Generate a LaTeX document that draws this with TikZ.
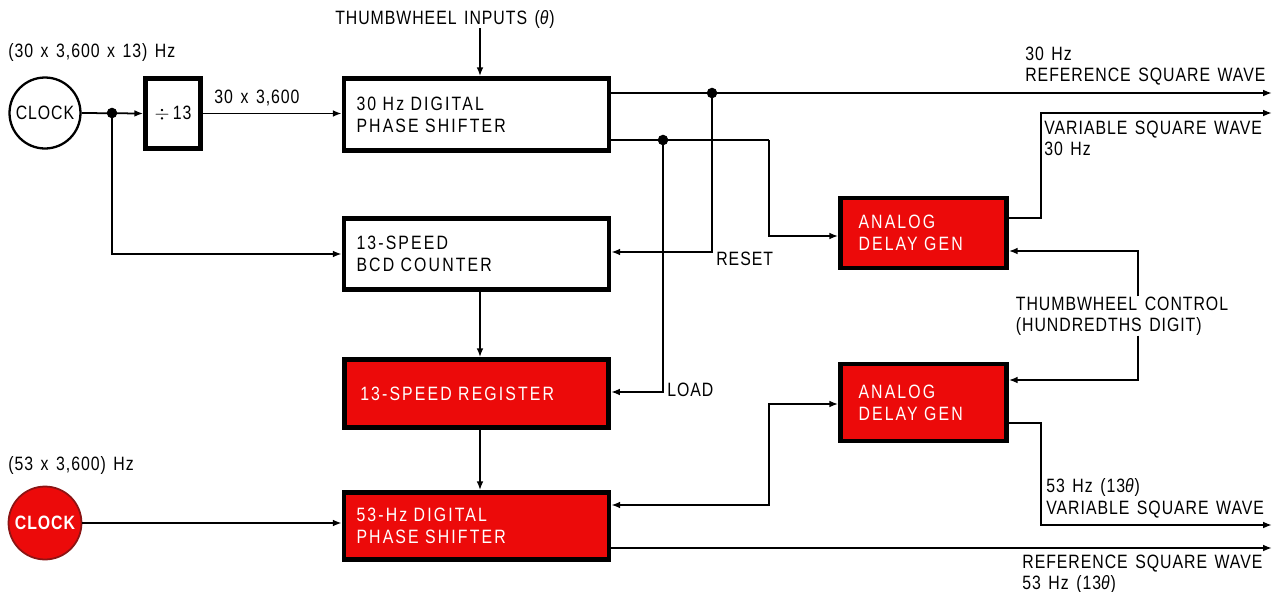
\documentclass[tikz,border=0pt]{standalone}
\usepackage{fontspec}
\setmainfont{Liberation Sans}[LetterSpace=5,FakeStretch=0.82,WordSpace=1.4]
\newfontfamily\boxfnt{Liberation Sans}[LetterSpace=11,FakeStretch=0.82,WordSpace=1.4]
\usetikzlibrary{arrows.meta,calc}
\definecolor{boxred}{RGB}{236,10,10}
\definecolor{darkred}{RGB}{140,20,20}
\begin{document}
\begin{tikzpicture}[x=0.02cm,y=-0.02cm,
  font=\fontsize{11}{12}\selectfont,
  conn/.style={line width=1pt},
  arr/.style={conn,-{Latex[length=5pt,width=3.8pt]}},
  dblarr/.style={conn,{Latex[length=5pt,width=3.8pt]}-{Latex[length=5pt,width=3.8pt]}},
  blk/.style={draw,line width=2.6pt,align=left,inner xsep=0.25cm,text width=#1,font=\boxfnt\fontsize{11}{12.5}\selectfont},
  redblk/.style={blk=#1,fill=boxred,text=white},
  lbl/.style={inner sep=0pt,align=left},
  dot/.style={circle,fill,inner sep=0pt,minimum size=6pt}]
\useasboundingbox (0,0) rectangle (1276,592);

% clocks
\node[circle,draw,line width=1.3pt,minimum size=1.42cm,inner sep=0pt] (clk1) at (45,113) {CLOCK};
\node[circle,fill=boxred,draw=darkred,line width=1pt,minimum size=1.46cm,inner sep=0pt,text=white,font=\fontsize{11}{12}\selectfont\bfseries] (clk2) at (45,523) {CLOCK};

% blocks
\node[draw,line width=2.6pt,minimum width=1.1cm,minimum height=1.4cm,inner sep=0pt] (div) at (173,113.5) {$\div$\,13};
\node[blk=4.8cm,minimum height=1.44cm] (ps1) at (476.5,114.5) {30 Hz DIGITAL\\PHASE SHIFTER};
\node[blk=4.8cm,minimum height=1.42cm] (bcd) at (476.5,254) {13-SPEED\\BCD COUNTER};
\node[redblk=4.65cm,minimum height=1.36cm,inner xsep=0.32cm] (reg) at (476.5,393.5) {13-SPEED REGISTER};
\node[redblk=4.8cm,minimum height=1.34cm] (ps53) at (476.5,526) {53-Hz DIGITAL\\PHASE SHIFTER};
\node[redblk=2.6cm,minimum height=1.4cm,inner xsep=0.36cm] (adg1) at (923.5,233) {ANALOG\\DELAY GEN};
\node[redblk=2.6cm,minimum height=1.54cm,inner xsep=0.36cm] (adg2) at (923.5,402.5) {ANALOG\\DELAY GEN};

% labels
\node[lbl,anchor=west] (f1) at (8,52) {(30 x 3,600 x 13) Hz};
\node[lbl,anchor=west] (f2) at (8,465) {(53 x 3,600) Hz};
\node[lbl] (tw) at (445,19) {THUMBWHEEL INPUTS (\textit{θ})};
\node[lbl,anchor=south] (r30) at (257,106) {30 x 3,600};
\node[lbl,anchor=west] (reset) at (716,259) {RESET};
\node[lbl,anchor=west] (load) at (667,390) {LOAD};
\node[lbl,anchor=south west] (ref30) at (1025,86) {30 Hz\\REFERENCE SQUARE WAVE};
\node[lbl,anchor=north west] (var30) at (1044,121) {VARIABLE SQUARE WAVE\\30 Hz};
\node[lbl,anchor=south west] (var53) at (1046,518) {53 Hz (13\textit{θ})\\VARIABLE SQUARE WAVE};
\node[lbl,anchor=north west] (ref53) at (1022,555) {REFERENCE SQUARE WAVE\\53 Hz (13\textit{θ})};
\node[lbl] (tc) at (1122,316) {THUMBWHEEL CONTROL\\(HUNDREDTHS DIGIT)};

% coordinates
\coordinate (j1) at (112,113);
\coordinate (d1) at (712,93);
\coordinate (d2) at (663,140);
\coordinate (o30r) at (1272,93);
\coordinate (o30v) at (1272,113);
\coordinate (o53v) at (1272,525);
\coordinate (o53r) at (1272,548);

% connectors
\draw[arr] (clk1.east) -- (div.west);
\node[dot] at (j1) {};
\draw[arr] (j1) |- (bcd.west);
\draw[arr] (div.east) -- (div.east -| ps1.west);
\draw[arr] (tw.south -| 480,0) -- (ps1.north -| 480,0);
\draw[arr] (ps1.east |- o30r) -- (o30r);
\node[dot] at (d1) {};
\draw[conn] (ps1.east |- d2) -- (769,140);
\draw[arr] (769,140) |- (adg1.west |- 0,236);
\node[dot] at (d2) {};
\draw[arr] (d1) |- (bcd.east |- 0,252);
\draw[arr] (d2) |- (reg.east |- 0,392);
\draw[arr] (bcd.south -| 480,0) -- (reg.north -| 480,0);
\draw[arr] (reg.south -| 480,0) -- (ps53.north -| 480,0);
\draw[arr] (clk2.east) -- (ps53.west |- clk2.east);
\draw[arr] (ps53.east |- o53r) -- (o53r);
\draw[dblarr] (ps53.east |- 0,505) -| (769,404) -- (adg2.west |- 0,404);
\draw[arr] (adg1.east |- 0,218) -| (1041,113) -- (o30v);
\draw[arr] (adg2.east |- 0,423) -| (1041,525) -- (o53v);
\draw[arr] (tc.north -| 1138,0) |- (adg1.east |- 0,251);
\draw[arr] (tc.south -| 1138,0) |- (adg2.east |- 0,380);
\end{tikzpicture}
\end{document}
